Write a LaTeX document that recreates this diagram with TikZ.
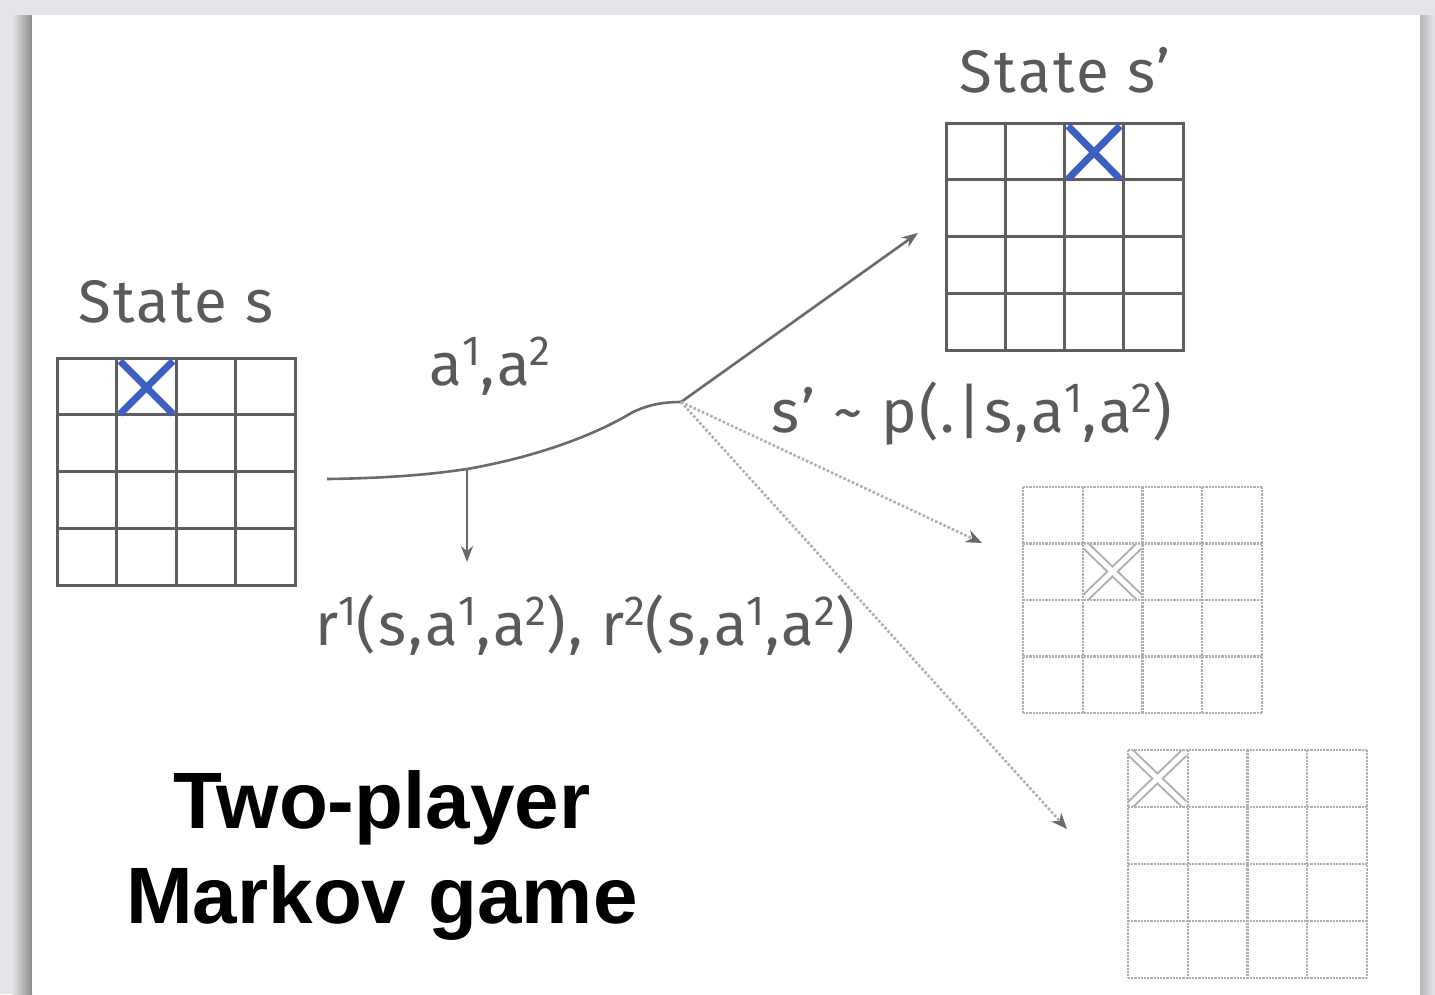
\documentclass[tikz,border=0pt]{standalone}
\usepackage{fontspec}
\setmainfont{Fira Sans}
\newfontfamily\labfont[LetterSpace=4]{Fira Sans}
\newfontfamily\titlefont{Liberation Sans}
\usetikzlibrary{arrows.meta}
\definecolor{bg}{HTML}{E4E5E9}
\definecolor{txt}{HTML}{5A5A5A}
\definecolor{gridc}{HTML}{5E5E5E}
\definecolor{xblue}{HTML}{3D5FC2}
\definecolor{faint}{HTML}{B0B0B0}
\definecolor{flowc}{HTML}{6A6A6A}
\newcommand\drawboard[5]{%
  \foreach \i in {0,...,4}{%
    \draw[#5] ({#1+\i*#3/4},#2) -- ({#1+\i*#3/4},{#2+#4});
    \draw[#5] (#1,{#2+\i*#4/4}) -- ({#1+#3},{#2+\i*#4/4});
  }}
\newcommand\sps[1]{\raisebox{20pt}{\fontsize{42}{42}\selectfont #1}}
\tikzset{
  lab/.style={text=txt, font=\labfont\fontsize{60}{72}\selectfont, inner sep=0pt},
  titletext/.style={text=black, font=\titlefont\bfseries\fontsize{80}{95}\selectfont, align=center, inner sep=0pt},
  gl/.style={draw=gridc, line width=3pt, line cap=rect},
  dgl/.style={draw=faint, line width=2.2pt, densely dotted},
  xmark/.style={draw=xblue, line width=7pt},
  fx/.style={draw=faint, line width=9pt},
  fxin/.style={draw=white, line width=5pt},
  boardbox/.style={draw=none, inner sep=0pt},
  flow/.style={draw=flowc, line width=2.6pt},
  dflow/.style={draw=faint, line width=2.6pt, dotted},
  tip/.style={-{Stealth[length=16pt,width=12pt]}},
  dtip/.style={-{Stealth[length=16pt,width=13pt,color=flowc]}},
}
\begin{document}
\begin{tikzpicture}[x=1pt,y=-1pt]
\useasboundingbox (0,0) rectangle (1435,994);
\fill[bg] (0,0) rectangle (1435,994);
% panel shadows
\shade[left color=bg, right color=black!45] (12,15) rectangle (32,994);
\shade[left color=black!28, right color=bg] (1420,15) rectangle (1435,994);
\fill[white] (32,15) rectangle (1420,994);

% boards (named)
\node[boardbox, minimum width=238pt, minimum height=227pt] (s) at (176,471.5) {};
\node[boardbox, minimum width=237pt, minimum height=227pt] (sp) at (1064.5,236.5) {};
\node[boardbox, minimum width=239pt, minimum height=226pt] (d1) at (1142,600) {};
\node[boardbox, minimum width=239pt, minimum height=228pt] (d2) at (1247.5,864) {};

% state s
\drawboard{57}{358}{238}{227}{gl}
\draw[xmark] (120,361) -- (173,414) (173,361) -- (120,414);
% state s'
\drawboard{946}{123}{237}{227}{gl}
\draw[xmark] (1068,126) -- (1120,179) (1120,126) -- (1068,179);
% dotted boards
\drawboard{1023}{487}{239}{226}{dgl}
\draw[fx] (1086,546) -- (1139,597) (1139,546) -- (1086,597);
\draw[fxin] (1086,546) -- (1139,597) (1139,546) -- (1086,597);
\drawboard{1128}{750}{239}{228}{dgl}
\draw[fx] (1131,753) -- (1184,804) (1184,753) -- (1131,804);
\draw[fxin] (1131,753) -- (1184,804) (1184,753) -- (1131,804);

% labels
\node[lab] (ts) at (176,302) {State s};
\node[lab] (tsp) at (1065,70) {State s’};
\node[lab] (ta) at (490,366) {a\sps{1},a\sps{2}};
\node[lab] (tp) at (972,414) {s’ \textasciitilde{} p(.|s,a\sps{1},a\sps{2})};
\node[lab] (tr) at (585,625) {r\sps{1}(s,a\sps{1},a\sps{2}), r\sps{2}(s,a\sps{1},a\sps{2})};
\node[titletext] (title) at (382,855) {Two-player\\Markov game};

% connectors
\coordinate (c0) at (327,479);
\coordinate (split) at (467,469);
\coordinate (kink) at (681,402);
\coordinate (tipA) at (918,233);
\coordinate (tipR) at (467,562);
\coordinate (tipB) at (982,543);
\coordinate (tipC) at (1067,829);
\draw[flow] (c0) .. controls (400,478) and (440,473) .. (split)
  .. controls (530,458) and (590,438) .. (633,412)
  .. controls (650,404) and (665,402) .. (kink);
\draw[flow, tip] (kink) -- (tipA);
\draw[flow, tip] (split) -- (tipR);
\draw[dflow, dtip] (kink) -- (tipB);
\draw[dflow, dtip] (kink) -- (tipC);
\end{tikzpicture}
\end{document}
